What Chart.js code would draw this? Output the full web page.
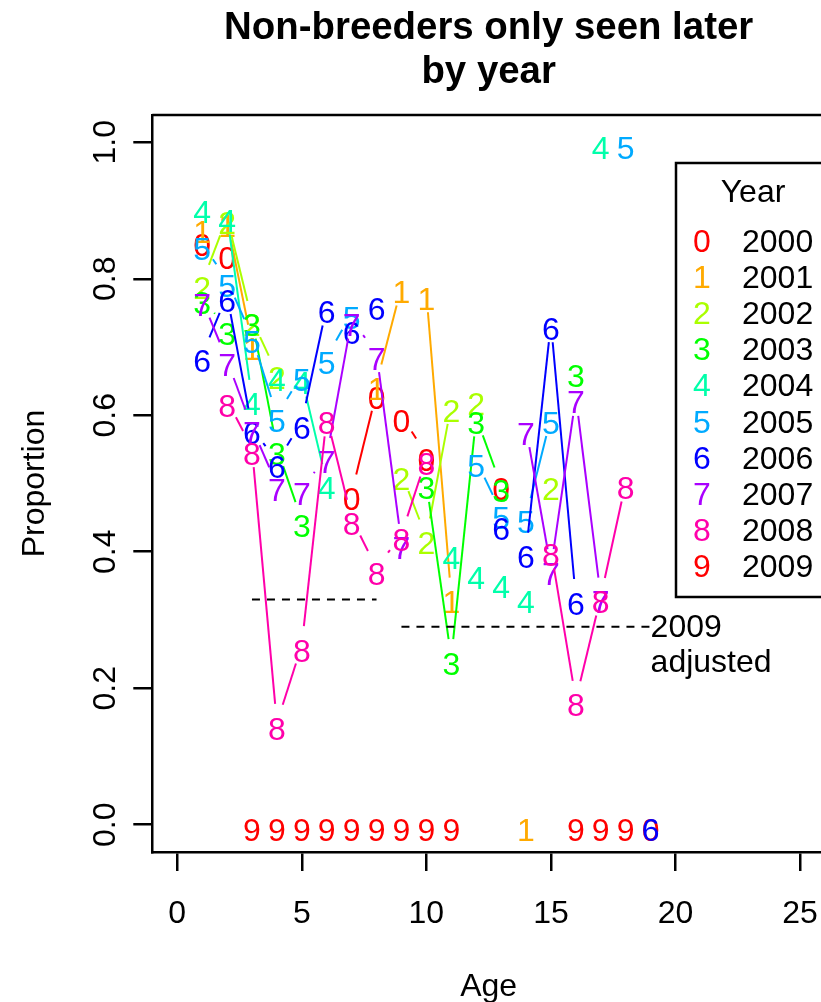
<!DOCTYPE html>
<html>
<head>
<meta charset="utf-8">
<script src="https://cdn.jsdelivr.net/npm/chart.js@4.4.1/dist/chart.umd.min.js"></script>
<style>
html,body{margin:0;padding:0;background:#fff;overflow:hidden;width:821px;height:1002px}
#wrap{position:relative;width:832px;height:1002px}
</style>
</head>
<body>
<div id="wrap"><canvas id="c" width="832" height="1002"></canvas></div>
<script>
// ---------- data ----------
const ages = [1,2,3,4,5,6,7,8,9,10,11,12,13,14,15,16,17,18,19];
const years = ['2000','2001','2002','2003','2004','2005','2006','2007','2008','2009'];
const symbols = ['0','1','2','3','4','5','6','7','8','9'];
const seriesColors = ['#FF0000','#FFAA00','#AAFF00','#00FF00','#00FFAA','#00AAFF','#0000FF','#AA00FF','#FF00AA','#FF0000'];
//            age: 1     2     3     4     5     6     7     8     9     10    11    12    13    14    15    16    17    18    19
const y2000 = [0.857,0.838,null, null, null, null, 0.486,0.634,0.600,0.542,null, null, 0.500,null, null, null, null, null, 0];
const y2001 = [0.876,0.885,0.705,null, null, null, null, 0.647,0.788,0.779,0.334,null, null, 0,    null, null, null, null, null];
const y2002 = [0.794,0.890,0.740,0.662,null, null, null, null, 0.515,0.421,0.615,0.625,null, null, 0.500,null, null, null, null];
const y2003 = [0.772,0.727,0.740,0.552,0.446,null, null, null, null, 0.501,0.244,0.597,0.497,null, null, 0.666,null, null, null];
const y2004 = [0.906,0.893,0.624,0.659,0.655,0.501,null, null, null, null, 0.399,0.369,0.356,0.334,null, null, 1.000,null, null];
const y2005 = [0.852,0.798,0.715,0.600,0.659,0.685,0.750,null, null, null, null, 0.534,0.458,0.451,0.597,null, null, 1.000,null];
const y2006 = [0.688,0.776,0.582,0.532,0.590,0.759,0.729,0.764,null, null, null, null, 0.442,0.400,0.735,0.332,null, null, 0];
const y2007 = [0.769,0.681,0.582,0.498,0.493,0.539,0.740,0.691,0.413,null, null, null, null, 0.581,0.376,0.627,0.334,null, null];
const y2008 = [null, 0.622,0.552,0.149,0.263,0.597,0.449,0.376,0.425,0.537,null, null, null, null, 0.403,0.183,0.334,0.501,null];
const y2009 = [null, null, 0,    0,    0,    0,    0,    0,    0,    0,    0,    null, null, null, null, 0,    0,    0,    null];
const seriesValues = [y2000,y2001,y2002,y2003,y2004,y2005,y2006,y2007,y2008,y2009];

const xTicks = [0,5,10,15,20,25];
const xTickLabels = ['0','5','10','15','20','25'];
const yTicks = [0,0.2,0.4,0.6,0.8,1.0];
const yTickLabels = ['0.0','0.2','0.4','0.6','0.8','1.0'];
const titleLines = ['Non-breeders only seen later','by year'];
const xTitle = 'Age';
const yTitle = 'Proportion';
const legendTitle = 'Year';
// dashed reference segments: age range and proportion
const refFrom  = [3, 9];
const refTo    = [8, 19];
const refValue = [0.33, 0.29];
const refNoteLines = ['2009','adjusted'];

// ---------- styling ----------
const FONT = '"Liberation Sans", Arimo, Arial, sans-serif';
const FS = 32;
const GAP = 19.2;

const datasets = seriesValues.map((vals, k) => ({
  label: years[k],
  data: ages.map((a, i) => ({x: a, y: vals[i]})),
  showLine: false,
  pointRadius: 0,
  pointHoverRadius: 0,
  borderColor: seriesColors[k],
  backgroundColor: seriesColors[k]
}));

function txt(ctx, s, x, y, align, font, color) {
  ctx.font = font; ctx.fillStyle = color || '#000';
  ctx.textAlign = align; ctx.textBaseline = 'alphabetic';
  ctx.fillText(s, x, y);
}

const rPlot = {
  id: 'rplot',
  afterDraw(chart) {
    const ctx = chart.ctx;
    const ca = chart.chartArea;
    const xs = chart.scales.x, ys = chart.scales.y;
    ctx.save();
    // box top and right
    ctx.strokeStyle = '#000'; ctx.lineWidth = 2.5;
    ctx.beginPath();
    ctx.moveTo(ca.left, ca.top); ctx.lineTo(ca.right, ca.top); ctx.lineTo(ca.right, ca.bottom);
    ctx.stroke();

    // series: broken lines + digit symbols (like R type="b")
    chart.data.datasets.forEach((ds, k) => {
      const pts = chart.getDatasetMeta(k).data;
      ctx.strokeStyle = seriesColors[k]; ctx.lineWidth = 2; ctx.setLineDash([]);
      for (let i = 1; i < pts.length; i++) {
        const a = pts[i-1], b = pts[i];
        if (a.skip || b.skip || ds.data[i-1].y === null || ds.data[i].y === null) continue;
        const dx = b.x - a.x, dy = b.y - a.y;
        const L = Math.hypot(dx, dy);
        const f = GAP / L;
        if (f >= 0.5) continue;
        ctx.beginPath();
        ctx.moveTo(a.x + f*dx, a.y + f*dy);
        ctx.lineTo(b.x - f*dx, b.y - f*dy);
        ctx.stroke();
      }
      pts.forEach((p, i) => {
        if (p.skip || ds.data[i].y === null) return;
        txt(ctx, symbols[k], p.x, p.y + 16.5, 'center', FS + 'px ' + FONT, seriesColors[k]);
      });
    });

    // dashed reference segments
    ctx.strokeStyle = '#000'; ctx.lineWidth = 2; ctx.setLineDash([8,7]);
    refValue.forEach((v, j) => {
      const py = ys.getPixelForValue(v);
      ctx.beginPath();
      ctx.moveTo(xs.getPixelForValue(refFrom[j]), py);
      ctx.lineTo(xs.getPixelForValue(refTo[j]), py);
      ctx.stroke();
    });
    ctx.setLineDash([]);
    const nx = xs.getPixelForValue(refTo[1]);
    const ny = ys.getPixelForValue(refValue[1]);
    txt(ctx, refNoteLines[0], nx, ny + 10.5, 'left', FS + 'px ' + FONT);
    txt(ctx, refNoteLines[1], nx, ny + 45.5, 'left', FS + 'px ' + FONT);

    // tick labels
    xTicks.forEach((v, i) => txt(ctx, xTickLabels[i], xs.getPixelForValue(v), 923, 'center', FS + 'px ' + FONT));
    yTicks.forEach((v, i) => {
      ctx.save();
      ctx.translate(115, ys.getPixelForValue(v));
      ctx.rotate(-Math.PI/2);
      txt(ctx, yTickLabels[i], 0, 0, 'center', FS + 'px ' + FONT);
      ctx.restore();
    });
    // axis titles
    const cx = (ca.left + ca.right) / 2;
    txt(ctx, xTitle, cx, 996, 'center', FS + 'px ' + FONT);
    ctx.save();
    ctx.translate(44, (ca.top + ca.bottom) / 2);
    ctx.rotate(-Math.PI/2);
    txt(ctx, yTitle, 0, 0, 'center', FS + 'px ' + FONT);
    ctx.restore();
    // main title
    txt(ctx, titleLines[0], cx, 39, 'center', 'bold 38.4px ' + FONT);
    txt(ctx, titleLines[1], cx, 83, 'center', 'bold 38.4px ' + FONT);

    // legend
    ctx.strokeStyle = '#000'; ctx.lineWidth = 2.5;
    ctx.strokeRect(676, 163, 154, 434);
    txt(ctx, legendTitle, 753, 201.5, 'center', FS + 'px ' + FONT);
    years.forEach((yr, k) => {
      const by = 251.5 + k * 36.2;
      txt(ctx, symbols[k], 702, by, 'center', FS + 'px ' + FONT, seriesColors[k]);
      txt(ctx, yr, 742, by, 'left', FS + 'px ' + FONT);
    });
    ctx.restore();
  }
};

const axisCommon = {
  type: 'linear',
  ticks: {display: false},
  grid: {display: true, drawOnChartArea: false, drawTicks: true, tickLength: 19, color: '#000', lineWidth: 2.5},
  border: {display: true, color: '#000', width: 2.5},
  title: {display: false}
};

new Chart(document.getElementById('c'), {
  type: 'scatter',
  data: {datasets},
  options: {
    responsive: false,
    animation: false,
    events: [],
    layout: {padding: {left: 0, top: 115, right: 7, bottom: 0}},
    plugins: {legend: {display: false}, title: {display: false}, tooltip: {enabled: false}},
    scales: {
      x: Object.assign({}, axisCommon, {
        min: -1, max: 26,
        afterBuildTicks: s => { s.ticks = xTicks.map(v => ({value: v})); },
        afterFit: s => { s.height = 150; }
      }),
      y: Object.assign({}, axisCommon, {
        min: -0.04, max: 1.04,
        afterBuildTicks: s => { s.ticks = yTicks.map(v => ({value: v})); },
        afterFit: s => { s.width = 152.3; }
      })
    }
  },
  plugins: [rPlot]
});
</script>
</body>
</html>
